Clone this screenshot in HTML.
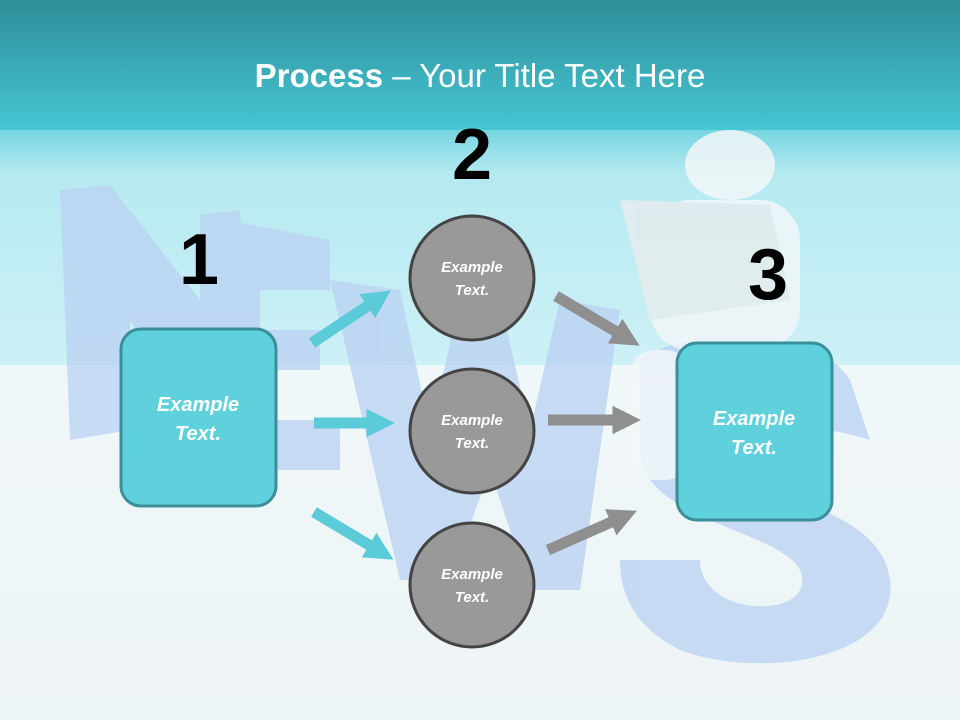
<!DOCTYPE html>
<html><head><meta charset="utf-8"><style>
html,body{margin:0;padding:0;width:960px;height:720px;overflow:hidden}
svg{display:block}
</style></head><body>
<svg width="960" height="720" viewBox="0 0 960 720" xmlns="http://www.w3.org/2000/svg" font-family="Liberation Sans, sans-serif">
<defs>
<linearGradient id="hd" x1="0" y1="0" x2="0" y2="1">
<stop offset="0" stop-color="#2e8d98"/><stop offset="1" stop-color="#46c6d4"/>
</linearGradient>
<linearGradient id="sky" x1="0" y1="0" x2="0" y2="1">
<stop offset="0" stop-color="#6fd2de"/><stop offset="0.2" stop-color="#b5eaf1"/><stop offset="1" stop-color="#cdf1f6"/>
</linearGradient>
<linearGradient id="fl" x1="0" y1="0" x2="0" y2="1">
<stop offset="0" stop-color="#f4fbfc"/><stop offset="1" stop-color="#edf4f6"/>
</linearGradient>
<marker id="c" viewBox="0 0 10 10" refX="2" refY="5" markerWidth="2.6" markerHeight="2.6" orient="auto"><path d="M0,0L10,5L0,10z" fill="#5bcbd9"/></marker>
<marker id="g" viewBox="0 0 10 10" refX="2" refY="5" markerWidth="2.6" markerHeight="2.6" orient="auto"><path d="M0,0L10,5L0,10z" fill="#8f8f8f"/></marker>
</defs>
<rect width="960" height="720" fill="url(#fl)"/>
<rect y="125" width="960" height="240" fill="url(#sky)"/>
<rect width="960" height="130" fill="url(#hd)"/>
<!-- faint NEWS letters -->
<g fill="#bcd3f3" opacity="0.8">
<polygon points="60,190 110,185 200,300 200,215 240,210 250,420 200,430 130,320 130,430 70,440"/>
<polygon points="200,215 330,240 330,290 260,290 260,330 320,330 320,370 260,370 260,420 340,420 340,470 250,470"/>
<polygon points="330,280 400,290 430,430 460,300 500,300 530,430 560,300 620,310 580,590 530,590 490,470 450,580 400,580"/>
<path d="M640,360 C700,320 820,330 850,380 L870,440 C800,420 720,410 730,460 C740,500 880,500 890,580 C900,660 760,680 680,650 C640,630 620,600 620,560 L700,560 C700,620 820,620 800,570 C780,530 640,520 640,450 Z"/>
</g>
<!-- figure -->
<g fill="#f2f7f8" opacity="0.85">
<ellipse cx="730" cy="165" rx="45" ry="35"/>
<rect x="650" y="200" width="150" height="150" rx="40"/>
<rect x="630" y="350" width="60" height="130" rx="25"/>
<polygon points="620,200 770,205 790,300 650,320" fill="#e6ecee"/>
</g>
<text x="480" y="87" text-anchor="middle" fill="#fff" font-size="33"><tspan font-weight="bold">Process</tspan> – Your Title Text Here</text>
<g font-family="Liberation Sans Narrow, Liberation Sans, sans-serif" font-size="72" font-weight="bold" fill="#000" text-anchor="middle">
<text x="199" y="284">1</text>
<text x="472" y="179">2</text>
<text x="768" y="299">3</text>
</g>
<!-- arrows -->
<g stroke-width="11" fill="none">
<line x1="312" y1="343" x2="372" y2="303" stroke="#5bcbd9" marker-end="url(#c)"/>
<line x1="314" y1="423" x2="372" y2="423" stroke="#5bcbd9" marker-end="url(#c)"/>
<line x1="314" y1="512" x2="374" y2="548" stroke="#5bcbd9" marker-end="url(#c)"/>
<line x1="556" y1="296" x2="620" y2="334" stroke="#8f8f8f" marker-end="url(#g)"/>
<line x1="548" y1="420" x2="618" y2="420" stroke="#8f8f8f" marker-end="url(#g)"/>
<line x1="548" y1="550" x2="616" y2="520" stroke="#8f8f8f" marker-end="url(#g)"/>
</g>
<rect x="121" y="329" width="155" height="177" rx="20" fill="#5fd1dd" stroke="#3a8f9b" stroke-width="3"/>
<rect x="677" y="343" width="155" height="177" rx="20" fill="#5fd1dd" stroke="#3a8f9b" stroke-width="3"/>
<g fill="#999" stroke="#444" stroke-width="3">
<circle cx="472" cy="278" r="62"/>
<circle cx="472" cy="431" r="62"/>
<circle cx="472" cy="585" r="62"/>
</g>
<g fill="#fff" font-weight="bold" font-style="italic" text-anchor="middle">
<text x="198" y="411" font-size="20">Example</text><text x="198" y="440" font-size="20">Text.</text>
<text x="754" y="425" font-size="20">Example</text><text x="754" y="454" font-size="20">Text.</text>
<text x="472" y="272" font-size="15">Example</text><text x="472" y="295" font-size="15">Text.</text>
<text x="472" y="425" font-size="15">Example</text><text x="472" y="448" font-size="15">Text.</text>
<text x="472" y="579" font-size="15">Example</text><text x="472" y="602" font-size="15">Text.</text>
</g>
</svg>
</body></html>
